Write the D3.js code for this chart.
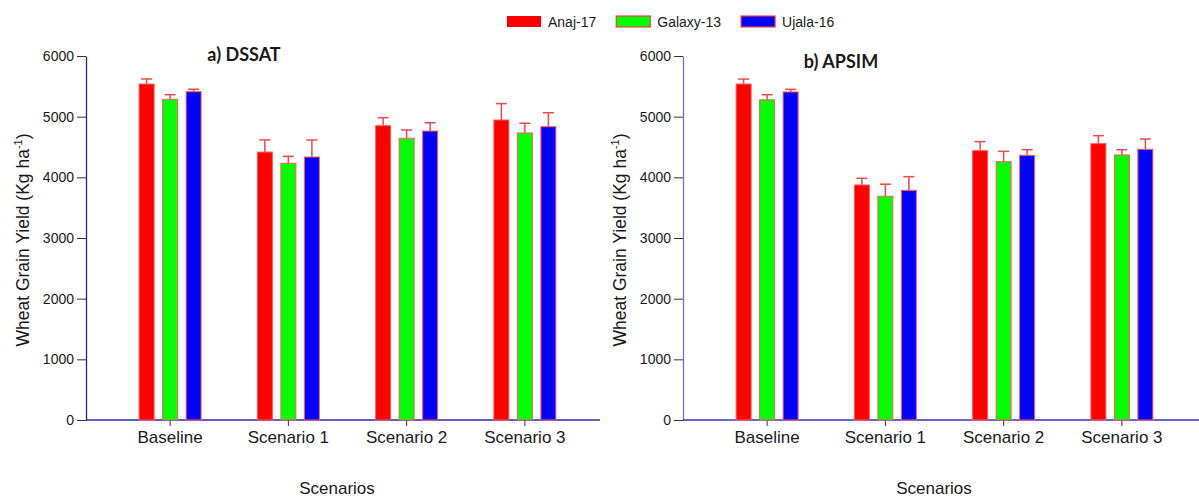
<!DOCTYPE html>
<html>
<head>
<meta charset="utf-8">
<script src="https://cdn.jsdelivr.net/npm/d3@7"></script>
<style>
  body { margin: 0; background: #fff; }
  svg text { font-family: "Liberation Sans", Arial, sans-serif; fill: #1a1a1a; }
  .title { font-family: Lato, "Open Sans", sans-serif !important; font-weight: 700; font-size: 18px; }
</style>
</head>
<body>
<div id="chart"></div>
<script>
// scenario categories and cultivars
var scenarios = ["Baseline", "Scenario 1", "Scenario 2", "Scenario 3"];
var cultivars = ["Anaj-17", "Galaxy-13", "Ujala-16"];
var barColors = ["#ff0000", "#00ff00", "#0000ff"];
var yTicks = [0, 1000, 2000, 3000, 4000, 5000, 6000];

// DSSAT yields (rows = scenarios, cols = cultivars)
var dssatMeans = [
    [5538, 5286, 5412],
    [4417, 4231, 4335],
    [4851, 4643, 4763],
    [4945, 4731, 4835]
];
var dssatErrors = [
    [83, 76, 40],
    [200, 115, 280],
    [132, 137, 137],
    [270, 160, 230]
];

// APSIM yields
var apsimMeans = [
    [5538, 5278, 5407],
    [3874, 3687, 3786],
    [4440, 4258, 4363],
    [4555, 4368, 4462]
];
var apsimErrors = [
    [82, 84, 43],
    [110, 200, 225],
    [148, 171, 93],
    [132, 88, 170]
];

var width = 1199, height = 497;
var svg = d3.select("#chart").append("svg")
    .attr("width", width)
    .attr("height", height);

var plotH = 364;

/**
 * Draws one panel (axes, bars, error bars, title)
 */
function drawPanel(left, top, axisLen, title, titleY, means, errors, yAxisColor, xAxisColor){
    var g = svg.append("g").attr("transform", "translate(" + left + "," + top + ")");

    var x = d3.scaleBand().domain(scenarios).range([25, 498]);
    var xInner = d3.scalePoint().domain(cultivars).range([-23.5, 23.5]);
    var y = d3.scaleLinear().domain([0, 6000]).range([plotH, 0]);
    var barW = 15;

    // y axis
    var yAxis = g.append("g")
        .call(d3.axisLeft(y).tickValues(yTicks).tickFormat(d3.format("d"))
            .tickSize(9).tickSizeOuter(0).tickPadding(3));
    yAxis.select(".domain").attr("stroke", yAxisColor).attr("stroke-width", 1.3);
    yAxis.selectAll(".tick line").attr("stroke", "#333");
    yAxis.selectAll(".tick text").style("font-size", "14px");

    // x axis
    var xAxis = g.append("g")
        .attr("transform", "translate(0," + plotH + ")")
        .call(d3.axisBottom(x).tickSize(6).tickSizeOuter(0).tickPadding(5));
    xAxis.select(".domain").remove();
    xAxis.selectAll(".tick line").attr("stroke", "#333");
    xAxis.selectAll(".tick text").style("font-size", "17px");
    g.append("line")
        .attr("x1", 0).attr("x2", axisLen)
        .attr("y1", plotH).attr("y2", plotH)
        .attr("stroke", xAxisColor).attr("stroke-width", 1.3);

    // flatten data for bars
    var data = [];
    scenarios.forEach(function(s, i){
        cultivars.forEach(function(c, j){
            data.push({scenario: s, cultivar: c, idx: j, value: means[i][j], err: errors[i][j]});
        });
    });

    var groups = g.append("g").selectAll("g")
        .data(data)
        .enter()
        .append("g")
        .attr("transform", function(d){
            return "translate(" + (x(d.scenario) + x.bandwidth()/2 + xInner(d.cultivar)) + ",0)";
        });

    // error bars (upper only)
    groups.append("line")
        .attr("x1", 0).attr("x2", 0)
        .attr("y1", function(d){ return y(d.value); })
        .attr("y2", function(d){ return y(d.value + d.err); })
        .attr("stroke", "#ee4a4a").attr("stroke-width", 1.5);
    groups.append("line")
        .attr("x1", -5.5).attr("x2", 5.5)
        .attr("y1", function(d){ return y(d.value + d.err); })
        .attr("y2", function(d){ return y(d.value + d.err); })
        .attr("stroke", "#ee4a4a").attr("stroke-width", 1.5);

    groups.append("rect")
        .attr("x", -barW/2)
        .attr("width", barW)
        .attr("y", function(d){ return y(d.value); })
        .attr("height", function(d){ return plotH - y(d.value); })
        .attr("fill", function(d){ return barColors[d.idx]; })
        .attr("stroke", "#ff5a5a")
        .attr("stroke-width", 1);

    // title
    g.append("text")
        .attr("class", "title")
        .attr("x", 158)
        .attr("y", titleY)
        .attr("text-anchor", "middle")
        .text(title);

    // y label
    var yl = g.append("text")
        .attr("transform", "translate(-57," + (240 - top) + ") rotate(-90)")
        .attr("text-anchor", "middle")
        .style("font-size", "17.5px");
    yl.append("tspan").text("Wheat Grain Yield (Kg ha");
    yl.append("tspan").attr("dy", -7).style("font-size", "11px").text("-1");
    yl.append("tspan").attr("dy", 7).text(")");

    // x label
    g.append("text")
        .attr("x", 251)
        .attr("y", 494 - top)
        .attr("text-anchor", "middle")
        .style("font-size", "17px")
        .text("Scenarios");
}

drawPanel(86, 56, 514, "a) DSSAT", 5, dssatMeans, dssatErrors, "#232398", "#2a2ab0");
drawPanel(683, 56, 516, "b) APSIM", 12, apsimMeans, apsimErrors, "#7272c8", "#3434c0");

// legend
var legend = svg.append("g").attr("transform", "translate(507,16)");
var lx = 0;
cultivars.forEach(function(c, i){
    legend.append("rect")
        .attr("x", lx).attr("y", 0)
        .attr("width", 34).attr("height", 11)
        .attr("fill", barColors[i])
        .attr("stroke", i == 0 ? "none" : "#ee4040")
        .attr("stroke-width", 1.2);
    var t = legend.append("text")
        .attr("x", lx + 41).attr("y", 11)
        .style("font-size", "14px")
        .text(c);
    lx += 41 + t.node().getComputedTextLength() + 20;
});
</script>
</body>
</html>
